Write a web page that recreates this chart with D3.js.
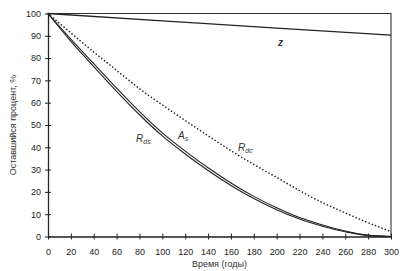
<!DOCTYPE html>
<html>
<head>
<meta charset="utf-8">
<script src="https://cdn.jsdelivr.net/npm/d3@7"></script>
<style>
  body { margin: 0; background: #fff; }
  svg { display: block; font-family: "Liberation Sans", Arial, sans-serif; }
  .axis text { font-size: 9px; fill: #222; }
  .axis path, .axis line { stroke: #222; }
</style>
</head>
<body>
<svg></svg>
<script>
// Years
var years = [0, 20, 40, 60, 80, 100, 120, 140, 160, 180, 200, 220, 240, 260, 280, 300];

// Remaining percent for each curve
var asValues  = [100, 88.5, 77.5, 66.5, 56.0, 46.5, 38.3, 30.8, 24.0, 18.0, 12.9, 8.5, 5.2, 2.5, 0.6, 0];
var rdsValues = [100, 87.5, 76.2, 65.1, 54.6, 45.1, 37.0, 29.6, 22.9, 17.0, 12.0, 7.8, 4.6, 2.1, 0.4, 0];
var rdcValues = [100, 91.3, 82.7, 74.5, 66.3, 59.0, 52.0, 45.2, 38.5, 32.3, 26.5, 20.6, 15.2, 10.6, 6.2, 2.2];
var zYears  = [0, 100, 200, 300];
var zValues = [100, 96.7, 93.4, 90.3];

var xTicks = d3.range(0, 301, 20);
var yTicks = d3.range(0, 101, 10);

var width = 418, height = 271;
var plotLeft = 48, plotRight = 391, plotTop = 13.5, plotBottom = 236.5;

var svg = d3.select("svg")
    .attr("width", width)
    .attr("height", height);

var x = d3.scaleLinear().domain([0, 300]).range([plotLeft, plotRight]);
var y = d3.scaleLinear().domain([0, 100]).range([plotBottom, plotTop]);

// frame top + right
svg.append("path")
    .attr("d", "M" + x(0) + "," + y(100) + "H" + x(300) + "V" + y(0))
    .attr("fill", "none")
    .attr("stroke", "#333")
    .attr("stroke-width", 1.1);

// axes with ticks that cross the line
var xAxis = svg.append("g")
    .attr("class", "axis")
    .attr("transform", "translate(0," + y(0) + ")")
    .call(d3.axisBottom(x).tickValues(xTicks).tickSize(3).tickSizeOuter(0).tickPadding(9));
xAxis.select(".domain").attr("stroke-width", 1.3);
xAxis.selectAll(".tick line").attr("y1", -3);

var yAxis = svg.append("g")
    .attr("class", "axis")
    .attr("transform", "translate(" + x(0) + ",0)")
    .call(d3.axisLeft(y).tickValues(yTicks).tickSize(3).tickSizeOuter(0).tickPadding(4));
yAxis.select(".domain").attr("stroke-width", 1.3);
yAxis.selectAll(".tick line").attr("x1", 3);

// axis titles
svg.append("text")
    .attr("x", (plotLeft + plotRight) / 2)
    .attr("y", 267)
    .attr("text-anchor", "middle")
    .style("font-size", "9px")
    .style("fill", "#333")
    .text("Время (годы)");

svg.append("text")
    .attr("transform", "translate(16," + ((plotTop + plotBottom) / 2) + ") rotate(-90)")
    .attr("text-anchor", "middle")
    .style("font-size", "9px")
    .style("fill", "#333")
    .text("Оставшийся процент, %");

var line = d3.line()
    .x(function(d) { return x(d[0]); })
    .y(function(d) { return y(d[1]); })
    .curve(d3.curveMonotoneX);

function drawCurve(xs, ys, opts) {
    svg.append("path")
        .datum(xs.map(function(v, i) { return [v, ys[i]]; }))
        .attr("d", line)
        .attr("fill", "none")
        .attr("stroke", "#222")
        .attr("stroke-width", opts.w)
        .attr("stroke-dasharray", opts.dash || null)
        .attr("stroke-linecap", opts.cap || "butt");
}

drawCurve(zYears, zValues, { w: 1.3 });
drawCurve(years, rdcValues, { w: 1.6, dash: "0.1,3.4", cap: "round" });
drawCurve(years, asValues, { w: 1.1 });
drawCurve(years, rdsValues, { w: 1.1 });

// curve labels
function label(px, py, main, sub) {
    var t = svg.append("text")
        .attr("x", px)
        .attr("y", py)
        .style("font-size", "10px")
        .style("font-style", "italic")
        .style("fill", "#333");
    t.append("tspan").text(main);
    if (sub) {
        t.append("tspan").attr("dy", 2).style("font-size", "7px").text(sub);
    }
}

label(136, 142, "R", "ds");
label(178, 139, "A", "s");
label(238, 151, "R", "dc");
svg.append("text")
    .attr("x", 278)
    .attr("y", 46)
    .style("font-size", "10px")
    .style("font-style", "italic")
    .style("font-weight", "bold")
    .style("fill", "#333")
    .text("z");
</script>
</body>
</html>
